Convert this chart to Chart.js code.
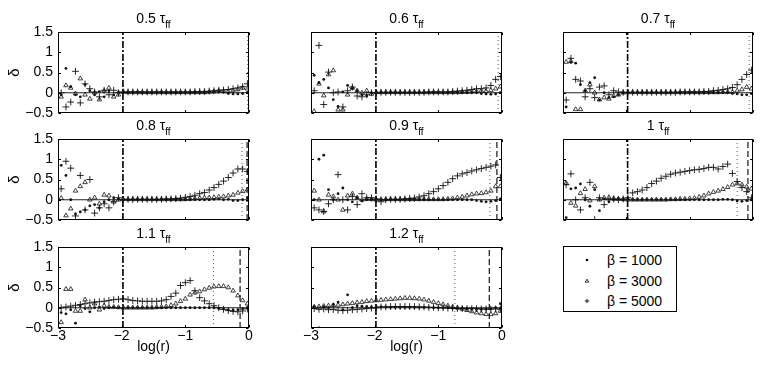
<!DOCTYPE html>
<html>
<head>
<meta charset="utf-8">
<script src="https://cdn.jsdelivr.net/npm/chart.js@4.4.1/dist/chart.umd.min.js"></script>
<style>
  body { margin: 0; background: #fff; }
  #page { position: relative; width: 763px; height: 372px; overflow: hidden; font-family: "Liberation Sans", Arial, sans-serif; }
  .panel { position: absolute; }
  #legend { position: absolute; left: 563px; top: 246px; width: 114px; height: 66px; border: 1px solid #000; box-sizing: border-box; background: #fff; }
  #legend .row { position: absolute; left: 0; height: 0; }
  #legend svg { position: absolute; left: 17px; top: -6px; }
  #legend span { position: absolute; left: 43px; top: -9px; font-size: 14px; line-height: 18px; white-space: nowrap; color: #000; }
</style>
</head>
<body>
<div id="page">
  <div id="legend"></div>
</div>
<script>
// log(r) sample points shared by every profile
const LOG_R = [-2.95, -2.875, -2.8, -2.725, -2.65, -2.575, -2.5, -2.425, -2.35, -2.275,
               -2.2, -2.125, -2.05, -1.975, -1.9, -1.825, -1.75, -1.675, -1.6, -1.525,
               -1.45, -1.375, -1.3, -1.225, -1.15, -1.075, -1.0, -0.925, -0.85, -0.775,
               -0.7, -0.625, -0.55, -0.475, -0.4, -0.325, -0.25, -0.175, -0.1, -0.025];

const TIMES = ['0.5', '0.6', '0.7', '0.8', '0.9', '1', '1.1', '1.2'];
const BETAS = [1000, 3000, 5000];

const X_TICKS = [-3, -2, -1, 0];
const Y_TICKS = [-0.5, 0, 0.5, 1, 1.5];

// vertical marker lines (log r)
const CORE_R = -1.98;
const DOTTED_R = [-0.02, -0.06, -0.06, -0.11, -0.19, -0.25, -0.56, -0.74];
const DASHED_R = [null, null, null, -0.03, -0.08, -0.08, -0.14, -0.2];

// delta profiles, one array per time and beta
const D05_B1000 = [-0.05, 0.60, 0.15, -0.05, -0.10, 0.20, 0.05, -0.05, 0.03, -0.10,
                    0.05, -0.05, 0.02, 0.01, 0.01, 0.01, 0.01, 0.00, 0.00, 0.00,
                    0.00, 0.00, 0.00, 0.00, 0.00, 0.00, 0.00, 0.00, 0.00, 0.00,
                    0.00, 0.01, 0.02, 0.02, 0.01, -0.02, -0.03, -0.03, -0.02, 0.01];
const D05_B3000 = [-0.10, 0.18, 0.12, -0.02, 0.35, -0.05, -0.15, 0.00, -0.17, 0.05,
                    0.12, -0.10, -0.05, 0.02, 0.01, 0.01, 0.01, 0.01, 0.01, 0.01,
                    0.01, 0.01, 0.01, 0.01, 0.01, 0.01, 0.01, 0.01, 0.01, 0.01,
                    0.01, 0.02, 0.03, 0.05, 0.04, 0.03, 0.05, 0.08, 0.12, 0.10];
const D05_B5000 = [0.00, -0.35, -0.23, 0.53, -0.25, 0.22, 0.10, 0.02, -0.10, 0.06,
                   -0.05, 0.06, 0.00, 0.02, 0.02, 0.02, 0.02, 0.02, 0.02, 0.02,
                    0.02, 0.02, 0.02, 0.02, 0.02, 0.02, 0.02, 0.02, 0.03, 0.03,
                    0.03, 0.04, 0.05, 0.06, 0.07, 0.08, 0.10, 0.12, 0.15, 0.22];

const D06_B1000 = [0.43, 0.25, 0.33, 0.12, -0.17, -0.34, 0.02, 0.18, 0.10, 0.05,
                   -0.05, -0.08, 0.00, 0.01, 0.00, 0.00, 0.00, 0.00, 0.00, 0.00,
                    0.00, 0.00, 0.00, 0.00, 0.00, 0.00, 0.00, 0.00, 0.00, 0.00,
                    0.00, 0.00, 0.00, 0.00, 0.00, -0.02, -0.03, -0.04, -0.03, 0.00];
const D06_B3000 = [-0.46, 0.22, -0.07, 0.45, 0.55, -0.42, -0.42, -0.05, 0.12, 0.05,
                    0.00, 0.05, -0.03, 0.01, 0.01, 0.01, 0.01, 0.01, 0.01, 0.01,
                    0.01, 0.01, 0.01, 0.01, 0.01, 0.01, 0.01, 0.01, 0.01, 0.01,
                    0.01, 0.02, 0.02, 0.03, 0.03, 0.05, 0.04, 0.06, 0.10, 0.15];
const D06_B5000 = [0.05, 1.17, -0.29, 0.51, 0.00, 0.02, -0.35, 0.05, 0.14, -0.08,
                   -0.10, -0.05, 0.00, 0.00, 0.01, 0.01, 0.01, 0.01, 0.01, 0.01,
                    0.01, 0.01, 0.01, 0.01, 0.02, 0.02, 0.02, 0.02, 0.02, 0.03,
                    0.04, 0.05, 0.06, 0.08, 0.10, 0.10, 0.12, 0.18, 0.33, 0.40];

const D07_B1000 = [-0.35, 0.75, 0.73, 0.20, 0.05, 0.25, 0.37, -0.18, 0.00, -0.12,
                   -0.10, -0.05, 0.00, 0.01, 0.00, 0.00, 0.00, 0.00, 0.00, 0.00,
                    0.00, 0.00, 0.00, 0.00, 0.00, 0.00, 0.00, 0.00, 0.00, 0.00,
                    0.00, 0.00, 0.00, 0.00, 0.00, -0.02, -0.03, -0.05, -0.05, -0.02];
const D07_B3000 = [0.76, 0.78, -0.41, -0.41, 0.05, 0.20, 0.00, -0.17, -0.12, -0.15,
                   -0.08, -0.05, 0.00, 0.01, 0.01, 0.01, 0.01, 0.01, 0.01, 0.01,
                    0.01, 0.01, 0.01, 0.01, 0.01, 0.01, 0.01, 0.01, 0.01, 0.01,
                    0.01, 0.01, 0.01, 0.02, 0.02, 0.02, 0.05, 0.08, 0.14, 0.10];
const D07_B5000 = [-0.18, 0.85, 0.33, 0.29, -0.10, 0.10, -0.12, 0.14, 0.17, -0.05,
                    0.05, 0.02, 0.01, 0.01, 0.01, 0.01, 0.01, 0.01, 0.01, 0.01,
                    0.01, 0.01, 0.01, 0.01, 0.02, 0.02, 0.02, 0.02, 0.02, 0.03,
                    0.03, 0.05, 0.06, 0.08, 0.10, 0.13, 0.20, 0.33, 0.45, 0.56];

const D08_B1000 = [0.85, 0.60, 0.00, -0.35, -0.30, -0.25, -0.15, -0.12, -0.20, -0.05,
                   0.00, 0.05, 0.02, 0.00, 0.00, 0.00, 0.00, 0.00, 0.00, 0.00,
                   0.00, 0.00, 0.00, 0.00, 0.00, 0.00, 0.00, 0.00, 0.00, 0.00,
                   0.00, 0.00, 0.01, 0.02, 0.00, 0.01, -0.02, -0.02, 0.00, 0.05];
const D08_B3000 = [0.04, -0.39, -0.22, 0.22, 0.33, 0.43, 0.00, 0.05, -0.10, 0.12,
                   0.10, -0.05, 0.00, 0.01, 0.01, 0.01, 0.01, 0.01, 0.01, 0.01,
                   0.01, 0.01, 0.01, 0.01, 0.01, 0.01, 0.01, 0.02, 0.03, 0.04,
                   0.05, 0.05, 0.06, 0.07, 0.08, 0.10, 0.12, 0.17, 0.21, 0.25];
const D08_B5000 = [0.27, 0.95, 0.78, -0.40, 0.60, -0.25, 0.50, -0.33, -0.20, -0.10,
                   -0.20, -0.05, 0.05, 0.01, 0.01, 0.01, 0.01, 0.01, 0.01, 0.01,
                    0.01, 0.01, 0.02, 0.02, 0.03, 0.04, 0.06, 0.08, 0.11, 0.15,
                    0.18, 0.24, 0.30, 0.38, 0.46, 0.55, 0.66, 0.76, 0.76, 0.70];

const D09_B1000 = [0.00, 1.00, 1.10, 0.25, 0.00, 0.15, 0.29, 0.00, -0.05, 0.05,
                   -0.03, 0.00, 0.00, 0.01, 0.00, 0.00, 0.00, 0.00, 0.00, 0.00,
                    0.00, 0.00, 0.00, 0.00, 0.00, 0.00, 0.00, 0.00, 0.00, 0.00,
                    0.00, 0.00, 0.00, 0.00, -0.02, -0.04, -0.05, -0.04, -0.02, 0.02];
const D09_B3000 = [0.22, 0.00, -0.29, 0.12, 0.08, 0.00, -0.25, 0.10, 0.15, 0.05,
                   0.00, 0.02, 0.01, 0.00, 0.01, 0.01, 0.01, 0.01, 0.01, 0.01,
                   0.01, 0.01, 0.01, 0.01, 0.01, 0.01, 0.01, 0.01, 0.02, 0.03,
                   0.05, 0.07, 0.10, 0.13, 0.15, 0.16, 0.18, 0.22, 0.33, 0.33];
const D09_B5000 = [-0.20, -0.25, -0.29, -0.10, 0.00, 0.62, 0.00, -0.25, 0.08, -0.12,
                    0.15, 0.05, 0.05, 0.02, -0.05, 0.00, 0.01, 0.01, 0.01, 0.02,
                    0.03, 0.04, 0.07, 0.10, 0.15, 0.20, 0.27, 0.35, 0.43, 0.52,
                    0.59, 0.64, 0.67, 0.71, 0.74, 0.77, 0.80, 0.83, 0.86, 0.55];

const D10_B1000 = [-0.44, 0.27, 0.29, 0.39, 0.00, -0.16, 0.25, -0.27, 0.02, -0.05,
                    0.00, 0.03, 0.00, 0.01, 0.00, 0.00, 0.00, 0.00, 0.00, 0.00,
                    0.00, 0.00, 0.00, 0.00, 0.00, 0.00, 0.00, 0.00, 0.00, 0.00,
                    0.00, 0.00, 0.00, 0.01, 0.01, 0.00, -0.03, -0.04, -0.02, 0.00];
const D10_B3000 = [0.41, -0.08, -0.15, 0.16, 0.26, -0.02, 0.33, 0.00, 0.05, 0.06,
                   0.03, 0.02, 0.01, 0.00, 0.00, 0.00, 0.00, 0.00, 0.00, 0.00,
                   0.00, 0.00, 0.01, 0.01, 0.02, 0.02, 0.03, 0.04, 0.07, 0.10,
                   0.15, 0.19, 0.22, 0.26, 0.31, 0.37, 0.40, 0.37, 0.32, 0.27];
const D10_B5000 = [0.37, 0.64, 0.00, -0.25, 0.05, 0.43, -0.49, 0.05, -0.12, 0.00,
                   0.02, 0.00, 0.02, 0.05, 0.17, 0.20, 0.24, 0.30, 0.40, 0.46,
                   0.53, 0.58, 0.63, 0.66, 0.68, 0.70, 0.72, 0.74, 0.75, 0.77,
                   0.80, 0.80, 0.76, 0.82, 0.88, 0.65, 0.45, 0.30, 0.20, 0.05];

const D11_B1000 = [-0.12, -0.15, -0.05, -0.38, 0.05, -0.02, -0.10, 0.00, 0.02, -0.02,
                    0.00, 0.01, 0.00, 0.00, 0.00, 0.00, 0.00, 0.00, 0.00, 0.00,
                    0.00, 0.00, 0.00, 0.00, 0.00, 0.00, 0.00, 0.00, 0.00, 0.00,
                    0.00, 0.00, 0.00, -0.02, -0.03, -0.05, -0.06, -0.05, -0.03, 0.00];
const D11_B3000 = [-0.36, 0.46, 0.46, -0.08, -0.08, 0.20, 0.00, 0.10, -0.05, 0.05,
                    0.02, 0.02, 0.01, 0.00, 0.00, 0.00, 0.00, 0.00, 0.00, 0.00,
                    0.01, 0.02, 0.03, 0.06, 0.10, 0.16, 0.22, 0.32, 0.37, 0.40,
                    0.45, 0.49, 0.52, 0.53, 0.53, 0.50, 0.42, 0.30, 0.18, 0.10];
const D11_B5000 = [0.00, 0.02, 0.04, 0.06, 0.08, 0.10, 0.12, 0.14, 0.15, 0.16,
                   0.18, 0.20, 0.21, 0.22, 0.20, 0.18, 0.17, 0.16, 0.16, 0.16,
                   0.16, 0.17, 0.20, 0.28, 0.36, 0.55, 0.62, 0.67, 0.42, 0.25,
                   0.17, 0.10, 0.05, 0.00, -0.04, -0.07, -0.09, -0.10, -0.08, -0.03];

const D12_B1000 = [0.03, -0.50, 0.03, 0.00, 0.08, 0.14, -0.05, 0.32, 0.00, 0.05,
                   0.04, 0.03, 0.02, 0.03, 0.02, 0.02, 0.01, 0.01, 0.01, 0.01,
                   0.01, 0.01, 0.01, 0.01, 0.01, 0.00, 0.00, 0.00, 0.00, -0.01,
                   -0.02, -0.02, -0.03, -0.03, -0.04, -0.04, -0.04, -0.03, 0.00, 0.10];
const D12_B3000 = [0.02, 0.03, 0.04, 0.05, 0.06, 0.07, 0.08, 0.10, 0.11, 0.13,
                   0.14, 0.16, 0.17, 0.18, 0.19, 0.20, 0.21, 0.22, 0.23, 0.24,
                   0.24, 0.23, 0.22, 0.20, 0.17, 0.14, 0.11, 0.08, 0.05, 0.02,
                   0.00, -0.03, -0.06, -0.09, -0.12, -0.14, -0.16, -0.16, -0.14, -0.08];
const D12_B5000 = [-0.02, -0.04, -0.03, -0.05, -0.04, -0.06, -0.07, -0.06, -0.05, -0.04,
                   -0.03, -0.02, -0.01, 0.00, 0.02, 0.02, 0.03, 0.03, 0.03, 0.03,
                    0.03, 0.03, 0.02, 0.02, 0.01, 0.01, 0.00, 0.00, -0.01, -0.01,
                   -0.02, -0.02, -0.02, -0.02, -0.02, -0.03, -0.03, -0.03, -0.03, -0.03];

const PROFILES = [
    [D05_B1000, D05_B3000, D05_B5000],
    [D06_B1000, D06_B3000, D06_B5000],
    [D07_B1000, D07_B3000, D07_B5000],
    [D08_B1000, D08_B3000, D08_B5000],
    [D09_B1000, D09_B3000, D09_B5000],
    [D10_B1000, D10_B3000, D10_B5000],
    [D11_B1000, D11_B3000, D11_B5000],
    [D12_B1000, D12_B3000, D12_B5000]
];

// layout of the 3x3 grid (plot area boxes)
const COL_LEFT = [58, 311, 563];
const COL_W = [191, 191, 190];
const ROW_TOP = [32, 139, 247];
const PANEL_H = 81;
const Y_AXIS_W = 56;
const X_AXIS_H = 32;
const TITLE_H = 30;
const RIGHT_PAD = 8;
const TICK_LEN = 2.5;
const FONT = '"Liberation Sans", Arial, sans-serif';

Chart.defaults.font.family = FONT;
Chart.defaults.color = '#000';

const MARKERS = [
    { pointStyle: 'circle', pointRadius: 1.4, backgroundColor: '#111', borderColor: '#111', borderWidth: 0 },
    { pointStyle: 'triangle', pointRadius: 2.6, backgroundColor: 'rgba(0,0,0,0)', borderColor: '#111', borderWidth: 0.8 },
    { pointStyle: 'cross', pointRadius: 3.4, backgroundColor: 'rgba(0,0,0,0)', borderColor: '#111', borderWidth: 0.9 }
];

function minus(v) {
    return String(v).replace('-', '\u2212');
}

function vline(x, style) {
    return Object.assign({
        type: 'line',
        data: [{ x: x, y: -0.5 }, { x: x, y: 1.5 }],
        pointRadius: 0,
        fill: false,
        order: 10
    }, style);
}

// box, inward ticks and "t tau_ff" title
function framePlugin(time) {
    return {
        id: 'frame',
        afterDraw(chart) {
            const { ctx, chartArea: a, scales } = chart;
            ctx.save();
            ctx.strokeStyle = '#000';
            ctx.lineWidth = 1;
            const l = Math.round(a.left) + 0.5, r = Math.round(a.right) - 0.5;
            const t = Math.round(a.top) + 0.5, b = Math.round(a.bottom) - 0.5;
            ctx.strokeRect(l, t, r - l, b - t);
            ctx.beginPath();
            X_TICKS.forEach(v => {
                const px = Math.round(scales.x.getPixelForValue(v)) + 0.5;
                ctx.moveTo(px, b); ctx.lineTo(px, b - TICK_LEN);
                ctx.moveTo(px, t); ctx.lineTo(px, t + TICK_LEN);
            });
            Y_TICKS.forEach(v => {
                const py = Math.round(scales.y.getPixelForValue(v)) + 0.5;
                ctx.moveTo(l, py); ctx.lineTo(l + TICK_LEN, py);
                ctx.moveTo(r, py); ctx.lineTo(r - TICK_LEN, py);
            });
            ctx.stroke();

            // title with subscript
            const main = time + ' \u03c4';
            const sub = 'ff';
            ctx.fillStyle = '#000';
            ctx.textBaseline = 'alphabetic';
            ctx.textAlign = 'left';
            ctx.font = '14px ' + FONT;
            const w1 = ctx.measureText(main).width;
            ctx.font = '10px ' + FONT;
            const w2 = ctx.measureText(sub).width;
            const x0 = (a.left + a.right) / 2 - (w1 + w2) / 2;
            ctx.font = '14px ' + FONT;
            ctx.fillText(main, x0, a.top - 9);
            ctx.font = '10px ' + FONT;
            ctx.fillText(sub, x0 + w1, a.top - 4);
            ctx.restore();
        }
    };
}

function makePanel(k) {
    const col = k % 3, row = Math.floor(k / 3);
    const showY = col === 0;
    const showX = row === 2;
    const w = Y_AXIS_W + COL_W[col] + RIGHT_PAD;
    const h = TITLE_H + PANEL_H + X_AXIS_H;

    const box = document.createElement('div');
    box.className = 'panel';
    box.style.left = (COL_LEFT[col] - Y_AXIS_W) + 'px';
    box.style.top = (ROW_TOP[row] - TITLE_H) + 'px';
    const canvas = document.createElement('canvas');
    canvas.width = w;
    canvas.height = h;
    box.appendChild(canvas);
    document.getElementById('page').appendChild(box);

    const datasets = [];
    // reference lines
    datasets.push({
        type: 'line',
        data: [{ x: -3, y: 0 }, { x: 0, y: 0 }],
        borderColor: '#222', borderWidth: 1, pointRadius: 0, fill: false, order: 10
    });
    datasets.push(vline(CORE_R, { borderColor: '#000', borderWidth: 1.6, borderDash: [7, 2, 2, 2] }));
    datasets.push(vline(DOTTED_R[k], { borderColor: '#444', borderWidth: 0.9, borderDash: [1, 3] }));
    if (DASHED_R[k] !== null) {
        datasets.push(vline(DASHED_R[k], { borderColor: '#000', borderWidth: 1.1, borderDash: [6, 3] }));
    }
    // profiles
    PROFILES[k].forEach((vals, s) => {
        datasets.push(Object.assign({
            label: '\u03b2 = ' + BETAS[s],
            data: LOG_R.map((x, i) => ({ x: x, y: vals[i] })),
            order: 1
        }, MARKERS[s]));
    });

    new Chart(canvas, {
        type: 'scatter',
        data: { datasets: datasets },
        options: {
            responsive: false,
            animation: false,
            devicePixelRatio: 1,
            layout: { padding: { top: TITLE_H, right: RIGHT_PAD, left: 0, bottom: 0 } },
            plugins: { legend: { display: false }, tooltip: { enabled: false } },
            scales: {
                x: {
                    type: 'linear', min: -3, max: 0,
                    afterBuildTicks(s) { s.ticks = X_TICKS.map(v => ({ value: v })); },
                    ticks: { display: showX, padding: 0, font: { size: 14 }, color: '#000', callback: v => minus(v) },
                    grid: { display: false, drawTicks: false },
                    border: { display: false },
                    title: { display: showX, text: 'log(r)', font: { size: 14 }, color: '#000', padding: { top: 0, bottom: 4 } },
                    afterFit(s) { s.height = X_AXIS_H; s.paddingLeft = 0; s.paddingRight = 0; }
                },
                y: {
                    type: 'linear', min: -0.5, max: 1.5,
                    afterBuildTicks(s) { s.ticks = Y_TICKS.map(v => ({ value: v })); },
                    ticks: { display: showY, padding: 5, font: { size: 14 }, color: '#000', callback: v => minus(v) },
                    grid: { display: false, drawTicks: false },
                    border: { display: false },
                    title: { display: showY, text: '\u03b4', font: { size: 15 }, color: '#000', padding: { top: 4, bottom: 0 } },
                    afterFit(s) { s.width = Y_AXIS_W; s.paddingTop = 0; s.paddingBottom = 0; }
                }
            }
        },
        plugins: [framePlugin(TIMES[k])]
    });
}

TIMES.forEach((t, k) => makePanel(k));

// legend box
const LEGEND_ROWS = [13, 34, 54];
const LEGEND_SVG = [
    '<circle cx="6" cy="6" r="1.3" fill="#000"/>',
    '<path d="M6 4.2 L7.8 7.2 L4.2 7.2 Z" fill="none" stroke="#000" stroke-width="0.8"/>',
    '<path d="M6 3.8 V8.2 M3.8 6 H8.2" stroke="#000" stroke-width="0.9"/>'
];
const legend = document.getElementById('legend');
BETAS.forEach((b, i) => {
    const row = document.createElement('div');
    row.className = 'row';
    row.style.top = LEGEND_ROWS[i] + 'px';
    row.innerHTML = '<svg width="12" height="12" viewBox="0 0 12 12">' + LEGEND_SVG[i] + '</svg>' +
        '<span>\u03b2 = ' + b + '</span>';
    legend.appendChild(row);
});
</script>
</body>
</html>
